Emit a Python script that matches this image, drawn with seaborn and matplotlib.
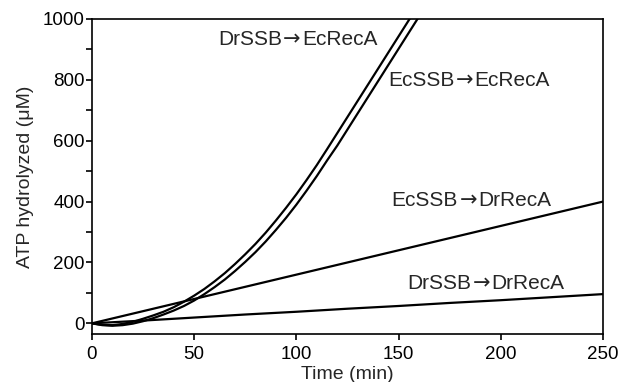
import pandas as pd
import matplotlib
matplotlib.use("Agg")
import matplotlib.pyplot as plt
import seaborn as sns

# === Data (time in min, ATP hydrolyzed in uM) ===
time_curve = [0, 5, 10, 15, 20, 25, 30, 35, 40, 45, 50, 55, 60, 65, 70, 75, 80,
              85, 90, 95, 100, 105, 110, 115, 120, 125, 130, 135, 140, 145, 150,
              155, 160, 165]
dr_ec = [0, -5, -6, -2, 5, 15, 26, 38, 53, 71, 91, 113, 138, 165, 195, 227, 261,
         298, 338, 380, 424, 471, 520, 572, 625, 678, 731, 784, 837, 890, 943,
         996, 1049, 1102]
ec_ec = [0, -6, -8, -6, -1, 7, 17, 29, 42, 57, 75, 96, 119, 144, 172, 202, 234,
         269, 307, 347, 390, 436, 484, 535, 584, 637, 690, 743, 796, 849, 902,
         955, 1008, 1061]

time_line = [0, 25, 50, 75, 100, 125, 150, 175, 200, 225, 250]
ec_dr = [0, 40, 80, 120, 160, 200, 240, 280, 320, 360, 400]
dr_dr = [0, 9, 19, 29, 38, 48, 57, 67, 76, 86, 96]

# label parts: (SSB, RecA)
label_parts = [("DrSSB", "EcRecA"), ("EcSSB", "EcRecA"), ("EcSSB", "DrRecA"), ("DrSSB", "DrRecA")]
labels = [a + "\u2192" + b for a, b in label_parts]

curves = pd.DataFrame({"Time": time_curve, labels[0]: dr_ec, labels[1]: ec_ec})
lines = pd.DataFrame({"Time": time_line, labels[2]: ec_dr, labels[3]: dr_dr})

sns.set_style("ticks")
plt.rcParams['font.family'] = ['Liberation Sans', 'DejaVu Sans']

fig = plt.figure(figsize=(6.24, 3.82), dpi=100)
ax = fig.add_axes([0.1474, 0.1257, 0.8189, 0.8246])

for name in labels[:2]:
    sns.lineplot(data=curves, x="Time", y=name, ax=ax, color="black", linewidth=1.6)
for name in labels[2:]:
    sns.lineplot(data=lines, x="Time", y=name, ax=ax, color="black", linewidth=1.6)

ax.set_xlim(0, 250)
ax.set_ylim(-35, 1000)
ax.set_xticks(range(0, 251, 50))
ax.set_yticks(range(0, 1001, 200))
ax.set_yticks(range(100, 1000, 200), minor=True)

for side in ax.spines.values():
    side.set_linewidth(1.2)
    side.set_color("black")
ax.tick_params(axis="both", which="both", direction="out", length=4.3, width=1.2,
               color="black", labelsize=13.5, labelcolor="black")
ax.tick_params(axis="y", pad=1)
ax.tick_params(axis="x", pad=4.5)

ax.set_xlabel("Time (min)", fontsize=14, labelpad=2)
ax.set_ylabel("ATP hydrolyzed (\u03bcM)", fontsize=14, labelpad=6)


# === Curve labels: the arrow comes from DejaVu Sans (centred, wider glyph) ===
def arrow_label(x, y, left, right, fs=15):
    t1 = ax.text(x, y, left, fontsize=fs, ha="left", va="baseline")
    t2 = ax.annotate("\u2192", xy=(1, 0), xycoords=t1, xytext=(1, 0),
                     textcoords="offset points", fontsize=fs, family="DejaVu Sans",
                     ha="left", va="bottom")
    ax.annotate(right, xy=(1, 0), xycoords=t2, xytext=(1, 0),
                textcoords="offset points", fontsize=fs, ha="left", va="bottom")


label_pos = [(61.6, 913), (144.8, 780), (146.6, 384), (154.3, 112)]
for (x, y), (a, b) in zip(label_pos, label_parts):
    arrow_label(x, y, a, b)

fig.savefig("out.png", dpi=100)
